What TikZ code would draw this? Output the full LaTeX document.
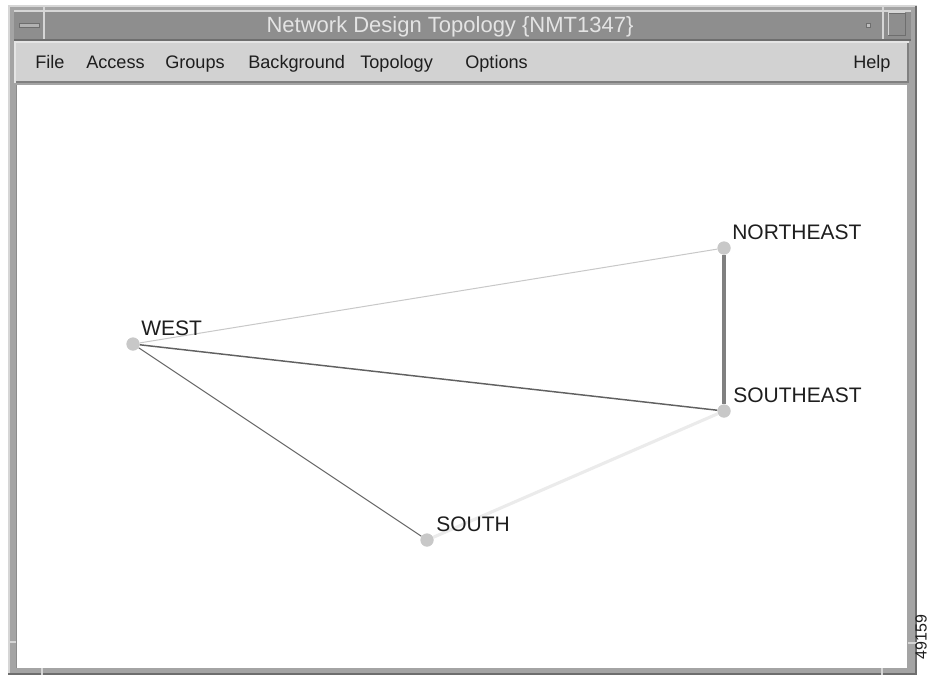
\documentclass[tikz,border=0pt]{standalone}
\usepackage{fontspec}
\setmainfont{Liberation Sans}
\definecolor{framegray}{HTML}{A4A4A4}
\definecolor{framelight}{HTML}{D6D6D6}
\definecolor{framedark}{HTML}{6E6E6E}
\definecolor{titlebar}{HTML}{8E8E8E}
\definecolor{titletext}{HTML}{E4E4E4}
\definecolor{menubar}{HTML}{D2D2D2}
\definecolor{dotgray}{HTML}{C8C8C8}
\definecolor{textdark}{HTML}{1E1E1E}
\begin{document}
\begin{tikzpicture}[x=0.75pt,y=-0.75pt,
  dot/.style={circle,fill=dotgray,draw=none,minimum size=9.75pt,inner sep=0pt},
  lbl/.style={anchor=base west,inner sep=0pt,text=textdark,font=\fontsize{15.75}{18}\selectfont},
  menu/.style={anchor=base west,inner sep=0pt,text=textdark,font=\fontsize{13.6}{16}\selectfont},
  ttl/.style={anchor=base,inner sep=0pt,text=titletext,font=\fontsize{16.5}{20}\selectfont},
  lightlink/.style={draw=dotgray,line width=0.75pt},
  darklink/.style={draw=black!62,line width=1.1pt},
  midlink/.style={draw=black!58,line width=0.75pt},
  thicklink/.style={draw=black!50,line width=2.3pt},
  faintlink/.style={draw=black!8,line width=2.3pt}]
\useasboundingbox (0,0) rectangle (930,675);
\fill[white] (0,0) rectangle (930,675);
% window frame
\fill[framegray] (8,5) rectangle (917,675);
\draw[framelight,line width=1.5pt] (9,675) -- (9,6) -- (917,6);
\draw[framedark,line width=1.2pt] (916,6) -- (916,675);
\draw[framedark,line width=1.2pt] (8,674) -- (917,674);
% resize notches
\draw[framelight,line width=0.8pt] (44,5) -- (44,11);
\draw[framelight,line width=0.8pt] (8,642) -- (16,642);
\draw[framelight,line width=0.8pt] (908,643) -- (917,643);
\draw[framelight,line width=0.8pt] (42,668) -- (42,675);
\draw[framelight,line width=0.8pt] (882,668) -- (882,675);
% title bar
\fill[titlebar] (14,11) rectangle (911,40);
\draw[framelight,line width=0.8pt] (14,11) -- (911,11);
\draw[framelight,line width=0.8pt] (44,11) -- (44,40);
\draw[framelight,line width=0.8pt] (883,5) -- (883,40);
\draw[framedark,line width=0.8pt] (14,40) -- (911,40);
% left button
\node[draw=framedark,fill=black!30,minimum width=15pt,minimum height=3pt,inner sep=0pt] (minbtn) at (29,25.5) {};
% right buttons
\node[draw=framedark,fill=black!25,minimum width=3pt,minimum height=3pt,inner sep=0pt] (iconbtn) at (868,25) {};
\node[draw=framedark,fill=titlebar,minimum width=12.5pt,minimum height=16.5pt,inner sep=0pt] (maxbtn) at (896.5,24) {};
\draw[framelight,line width=0.6pt] (maxbtn.south west) -- (maxbtn.north west) -- (maxbtn.north east);
\node[ttl] (title) at (450,32) {Network Design Topology \{NMT1347\}};
% menu bar
\fill[menubar] (15,42) rectangle (909,83);
\draw[white!90!black,line width=0.8pt] (15,83) -- (15,42) -- (909,42);
\draw[black!50,line width=1.5pt] (16,82) -- (908,82) -- (908,43);
\node[menu] (mfile) at (35,68.5) {File};
\node[menu] (maccess) at (86,68.5) {Access};
\node[menu] (mgroups) at (165,68.5) {Groups};
\node[menu] (mback) at (248,68.5) {Background};
\node[menu] (mtopo) at (360,68.5) {Topology};
\node[menu] (mopt) at (465,68.5) {Options};
\node[menu] (mhelp) at (853,68.5) {Help};
% canvas
\fill[white] (16,84.5) rectangle (907,668);
\draw[black!45,line width=1.2pt] (16.5,668) -- (16.5,84.5);
% nodes
\node[dot] (west) at (133,344) {};
\node[dot] (ne) at (724,248) {};
\node[dot] (se) at (724,411) {};
\node[dot] (south) at (427,540) {};
% links
\draw[lightlink] (west) -- (ne);
\draw[darklink] (west) -- (se);
\draw[midlink] (west) -- (south);
\draw[thicklink] (ne) -- (se);
\draw[faintlink] (south) -- (se);
% redraw dots on top
\node[dot] at (west) {};
\node[dot] at (ne) {};
\node[dot] at (se) {};
\node[dot] at (south) {};
% labels
\node[lbl] (westl) at (141,335.5) {WEST};
\node[lbl] (nel) at (732,239.5) {NORTHEAST};
\node[lbl] (sel) at (733,402.5) {SOUTHEAST};
\node[lbl] (southl) at (436,531.5) {SOUTH};
% figure number
\node[rotate=90,inner sep=0pt,text=textdark,font=\fontsize{12}{14}\selectfont] (fignum) at (921,637) {49159};
\end{tikzpicture}
\end{document}
